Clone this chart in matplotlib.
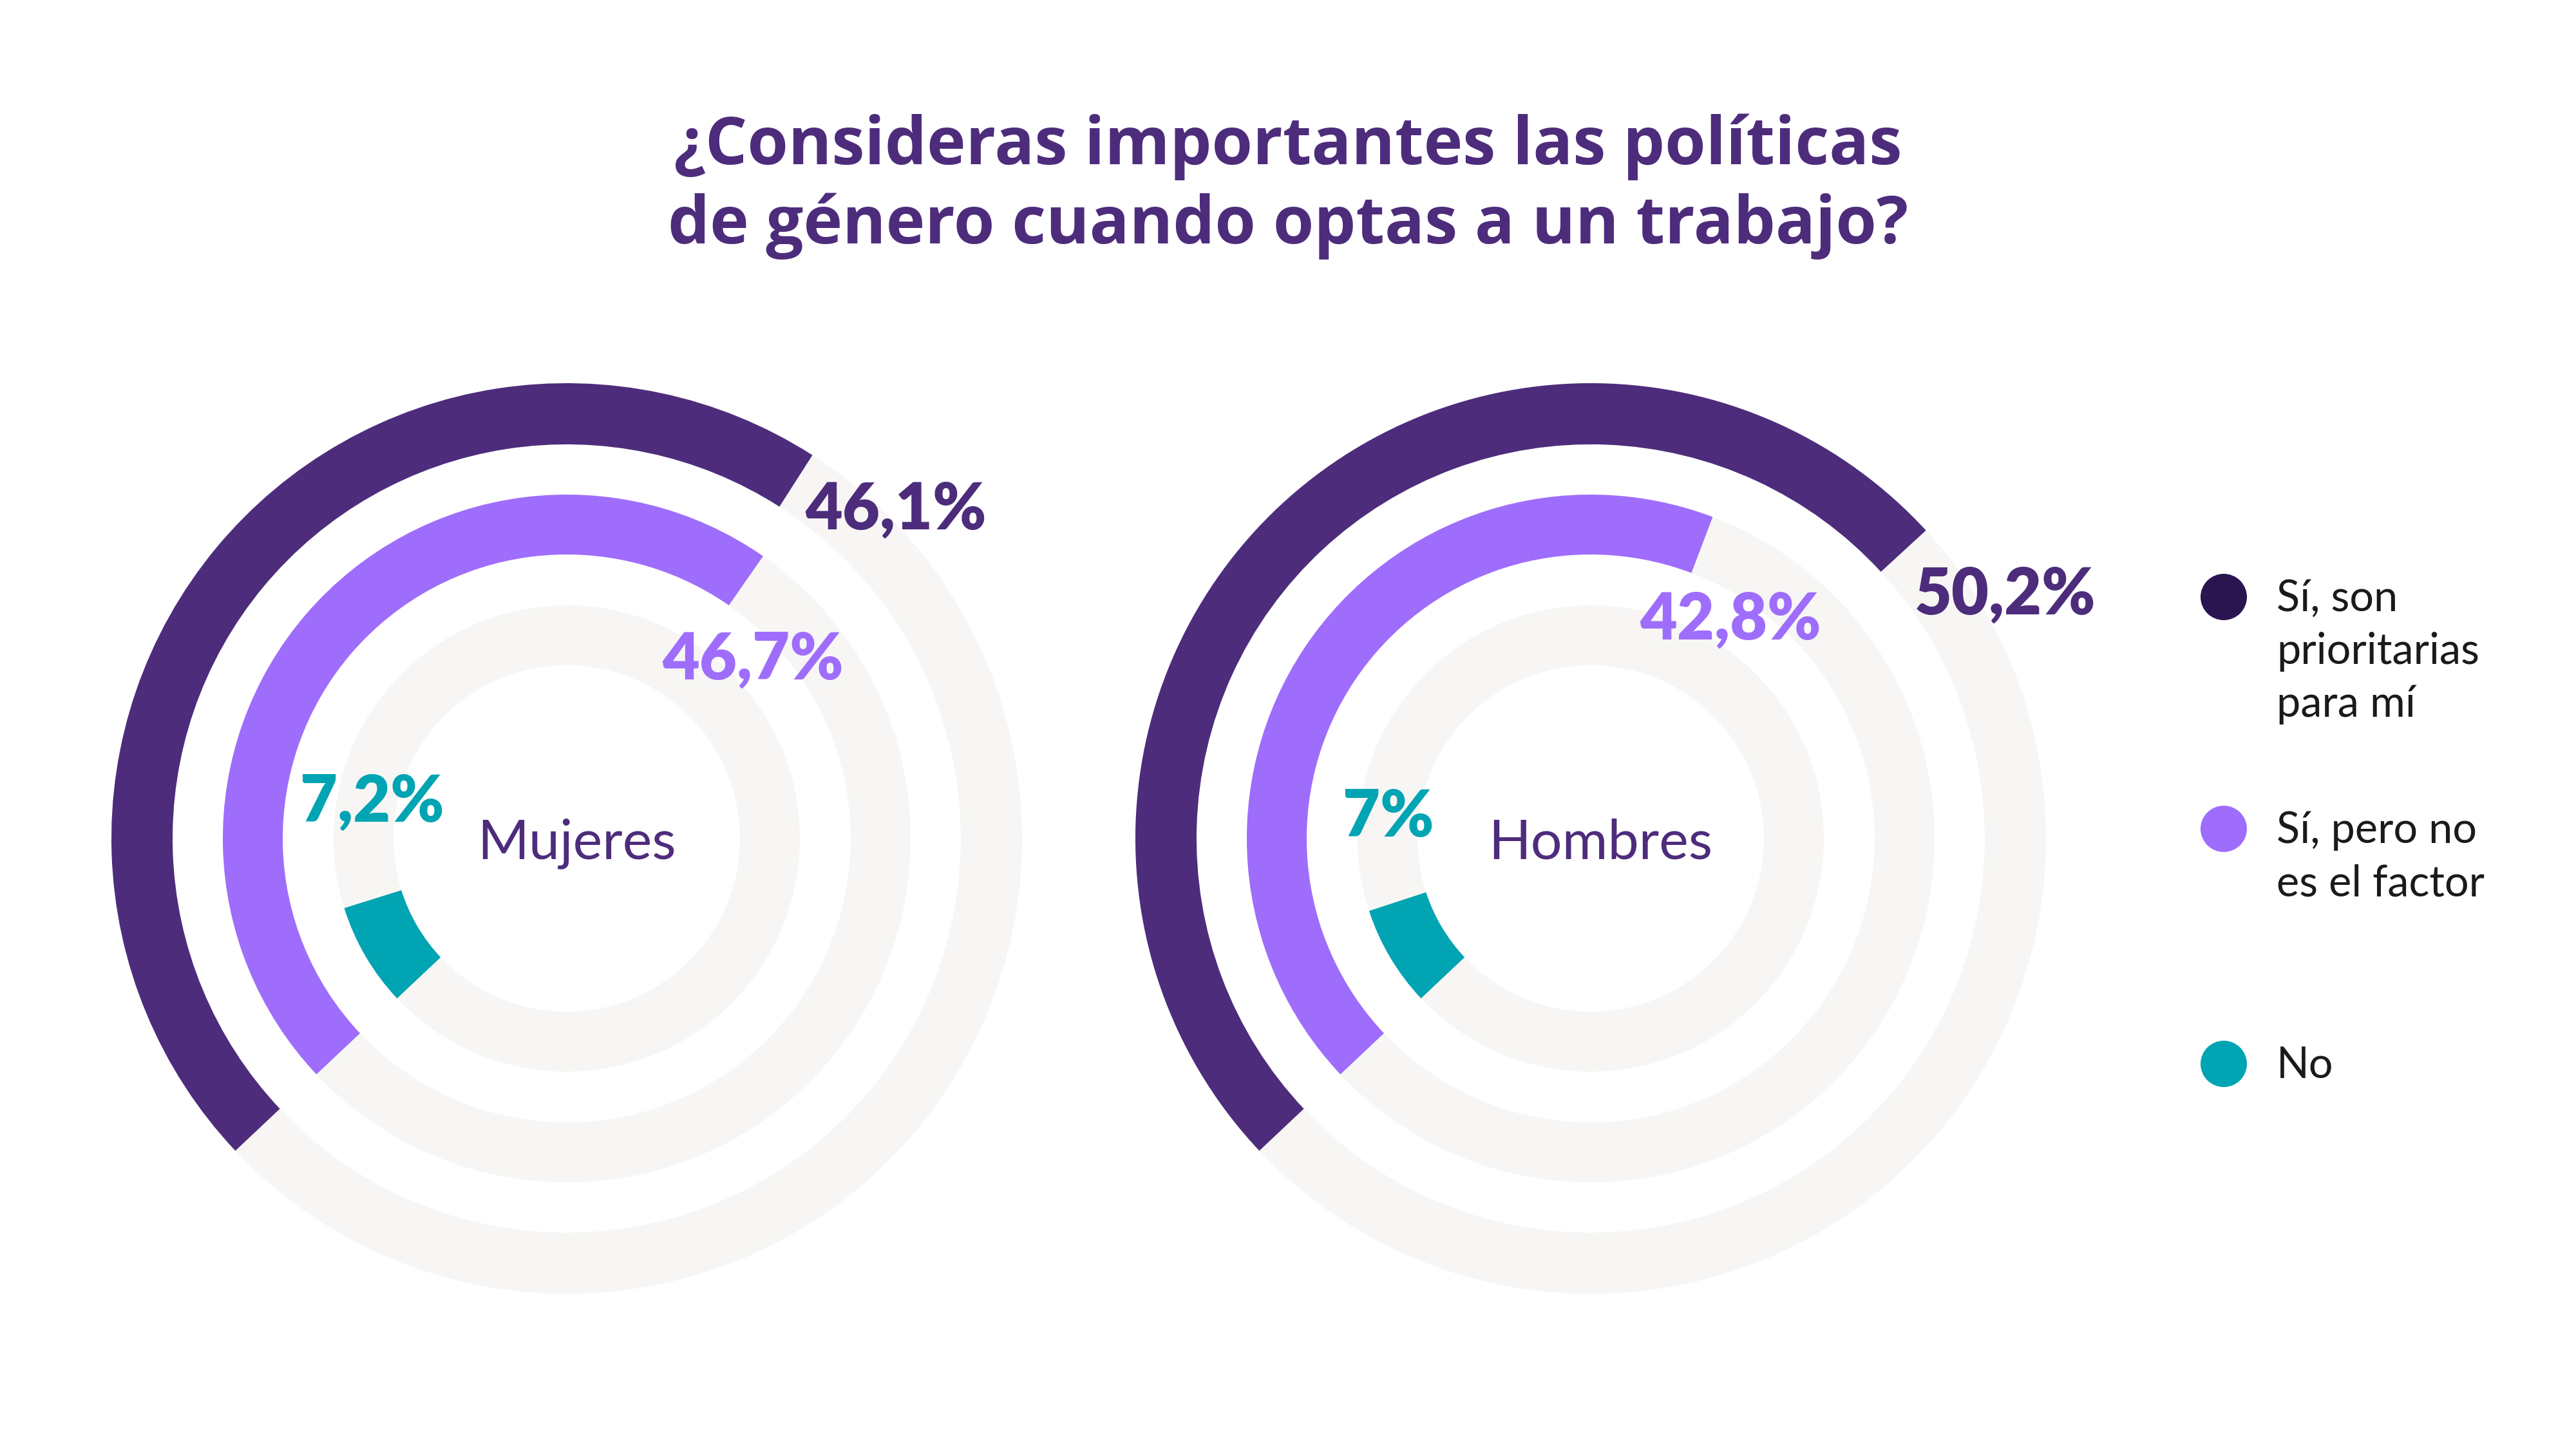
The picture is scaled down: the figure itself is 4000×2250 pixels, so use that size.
import numpy as np
import matplotlib.pyplot as plt

# data
groups = ["Mujeres", "Hombres"]
answers = ["Sí, son\nprioritarias\npara mí", "Sí, pero no\nes el factor", "No"]
mujeres = [46.1, 46.7, 7.2]
hombres = [50.2, 42.8, 7.0]

colors = ["#4D2C7C", "#9F6DFB", "#00A4B2"]
legend_colors = ["#2B1550", "#9F6DFB", "#00A4B2"]
track = "#F7F6F4"
title_color = "#4D2C7C"

W, H = 4000, 2250
fig = plt.figure(figsize=(W / 100, H / 100), dpi=100)
fig.patch.set_facecolor("white")
plt.rcParams["font.family"] = ["Lato", "DejaVu Sans"]

# ring geometry (px): inner and outer radius per ring, outer ring first
rings = [(612, 707), (441, 534), (269, 362)]
centers = [(880, 1302), (2470, 1302)]
half = 750
start_deg = 223.3

# label placement (left x, centre y) per ring, per chart
label_pos = [
    [(1250, 784), (1028, 1017), (466, 1238)],
    [(2973, 916), (2546, 955), (2085, 1261)],
]
name_pos = [(895, 1333), (2485, 1333)]


def fmt(v):
    s = f"{v:.1f}".replace(".", ",")
    if s.endswith(",0"):
        s = s[:-2]
    return s + "%"


def px(x, y):
    return x / W, 1 - y / H


for (cx, cy), name, vals, lpos, npos in zip(centers, groups, [mujeres, hombres], label_pos, name_pos):
    rect = [(cx - half) / W, (H - cy - half) / H, 2 * half / W, 2 * half / H]
    ax = fig.add_axes(rect, projection="polar")
    ax.set_theta_offset(np.radians(start_deg))
    ax.set_theta_direction(-1)
    ax.set_ylim(0, half)
    ax.axis("off")
    for (r0, r1), v, c in zip(rings, vals, colors):
        ax.bar(0, r1 - r0, width=2 * np.pi, bottom=r0, color=track, align="edge", linewidth=0)
        ax.bar(0, r1 - r0, width=v / 100 * 2 * np.pi, bottom=r0, color=c, align="edge", linewidth=0)
    for (lx, ly), v, c in zip(lpos, vals, colors):
        fig.text(*px(lx, ly), fmt(v), color=c, fontsize=72, fontweight="heavy",
                 ha="left", va="center_baseline")
    fig.text(*px(*npos), name, color=title_color, fontsize=62, ha="center", va="baseline")

title_font = ["Open Sans", "DejaVu Sans"]
fig.text(*px(2000, 255), "¿Consideras importantes las políticas", color=title_color,
         fontsize=74, fontweight="bold", family=title_font, ha="center", va="baseline")
fig.text(*px(2000, 378), "de género cuando optas a un trabajo?", color=title_color,
         fontsize=74, fontweight="bold", family=title_font, ha="center", va="baseline")

# legend
dot_y = [927, 1287, 1652]
legend_ax = fig.add_axes([0, 0, 1, 1], zorder=-1)
legend_ax.set_xlim(0, W)
legend_ax.set_ylim(H, 0)
legend_ax.axis("off")
legend_ax.scatter([3453] * 3, dot_y, s=(72 * 0.72) ** 2, c=legend_colors, linewidths=0)
for y, lab in zip(dot_y, answers):
    for i, line in enumerate(lab.split("\n")):
        fig.text(*px(3535, y + 22 + i * 82), line, color="#1A1A1A", fontsize=48,
                 ha="left", va="baseline")

fig.savefig("out.png", dpi=100, facecolor="white")
